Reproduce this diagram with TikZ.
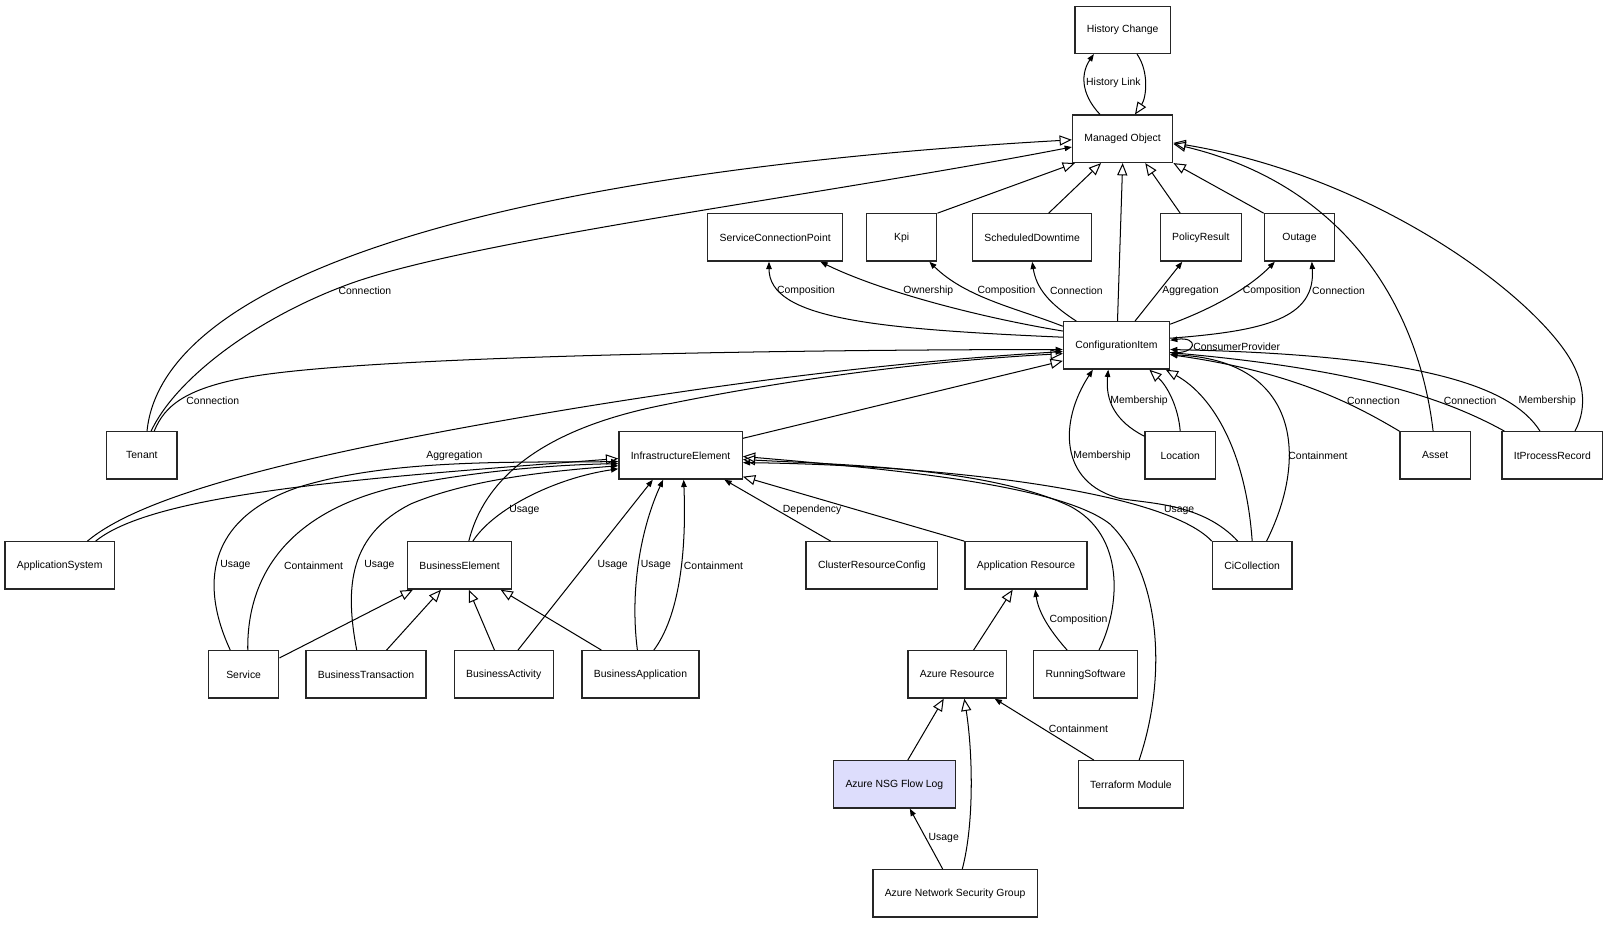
\documentclass[tikz,border=0pt]{standalone}
\usepackage{fontspec}
\setmainfont{Liberation Sans}
\usetikzlibrary{arrows.meta,calc}
\definecolor{flowlog}{RGB}{221,221,252}

\begin{document}
\begin{tikzpicture}[x=0.025cm,y=-0.025cm,
    cls/.style={draw=black!85,line width=0.9pt,fill=white,minimum width=1.71cm,minimum height=1.15cm,inner xsep=0.29cm,font=\fontsize{7.2}{8.6}\selectfont},
    lbl/.style={inner sep=0pt,font=\fontsize{7.2}{8.6}\selectfont},
    assoc/.style={line width=0.7pt,-{Triangle[length=5pt,width=3.8pt]}},
    inherit/.style={line width=0.7pt,-{Triangle[open,length=8.5pt,width=7pt]}}]

            \useasboundingbox (0,0) rectangle (1568,899);

            \node[cls] (hc) at (1092,29) {History Change};
            \node[cls] (mo) at (1092,135) {Managed Object};
            \node[cls] (scp) at (754,231) {ServiceConnectionPoint};
            \node[cls] (kpi) at (877,231) {Kpi};
            \node[cls] (sd) at (1004,231) {ScheduledDowntime};
            \node[cls] (pr) at (1168,231) {PolicyResult};
            \node[cls] (outage) at (1264,231) {Outage};
            \node[cls] (ci) at (1086,336) {ConfigurationItem};
            \node[cls] (tenant) at (138,443) {Tenant};
            \node[cls] (ie) at (662,443) {InfrastructureElement};
            \node[cls] (loc) at (1148,443) {Location};
            \node[cls] (asset) at (1396,443) {Asset};
            \node[cls] (itpr) at (1510,443) {ItProcessRecord};
            \node[cls] (appsys) at (58,550) {ApplicationSystem};
            \node[cls] (be) at (447,550) {BusinessElement};
            \node[cls] (crc) at (848,550) {ClusterResourceConfig};
            \node[cls] (ar) at (998,550) {Application Resource};
            \node[cls] (cic) at (1218,550) {CiCollection};
            \node[cls] (svc) at (237,656) {Service};
            \node[cls] (btx) at (356,656) {BusinessTransaction};
            \node[cls] (bact) at (490,656) {BusinessActivity};
            \node[cls] (bapp) at (623,656) {BusinessApplication};
            \node[cls] (azr) at (931,656) {Azure Resource};
            \node[cls] (rs) at (1056,656) {RunningSoftware};
            \node[cls,fill=flowlog] (nsgfl) at (870,763) {Azure NSG Flow Log};
            \node[cls] (tfm) at (1100,763) {Terraform Module};
            \node[cls] (ansg) at (929,869) {Azure Network Security Group};

            % managed object
            \draw[assoc] ($(mo.north)+(-22,0)$) .. controls (1050,90) and (1052,70) .. ($(hc.south)+(-28,0)$) node[lbl,at={(1083,81)}] {History Link};
            \draw[inherit] ($(hc.south)+(14,0)$) .. controls (1118,70) and (1115,95) .. ($(mo.north)+(12,0)$);
            \draw[inherit] ($(tenant.north)+(5,0)$) .. controls (158,270) and (480,168) .. ($(mo.west)+(0,1)$);
            \draw[assoc] ($(tenant.north)+(9,0)$) .. controls (170,370) and (245,312) .. (335,278) .. controls (450,234) and (800,190) .. ($(mo.west)+(0,8)$) node[lbl,at={(355,283)}] {Connection};
            \draw[inherit] (kpi.north east) -- ($(mo.south west)+(3,0)$);
            \draw[inherit] ($(sd.north)+(16,0)$) -- ($(mo.south)+(-21,0)$);
            \draw[inherit] ($(ci.north)+(1,0)$) -- (mo.south);
            \draw[inherit] ($(pr.north)+(-20,0)$) -- ($(mo.south)+(22,0)$);
            \draw[inherit] (outage.north west) -- (mo.south east);
            \draw[inherit] ($(asset.north)+(-2,0)$) .. controls (1380,300) and (1310,180) .. ($(mo.east)+(0,5)$);
            \draw[inherit] ($(itpr.north)+(22,0)$) .. controls (1545,395) and (1540,368) .. (1524,344) .. controls (1480,278) and (1330,170) .. ($(mo.east)+(0,4)$);

            % configuration item, upper row
            \draw[assoc] ($(ci.west)+(0,-8)$) .. controls (850,320) and (748,310) .. ($(scp.south)+(-6,0)$) node[lbl,at={(784,283)}] {Composition};
            \draw[assoc] ($(ci.west)+(0,-14)$) .. controls (960,310) and (860,285) .. ($(scp.south)+(44,0)$) node[lbl,at={(903,283)}] {Ownership};
            \draw[assoc] ($(ci.north west)+(0,5)$) .. controls (990,300) and (940,290) .. ($(kpi.south)+(27,0)$) node[lbl,at={(979,283)}] {Composition};
            \draw[assoc] ($(ci.north)+(-39,0)$) .. controls (1020,295) and (1008,280) .. (sd.south) node[lbl,at={(1047,283)}] {Connection};
            \draw[assoc] ($(ci.north)+(18,0)$) -- ($(pr.south)+(-18,0)$) node[lbl,at={(1158,283)}] {Aggregation};
            \draw[assoc] ($(ci.north east)+(0,3)$) .. controls (1180,300) and (1215,280) .. ($(outage.south)+(-24,0)$) node[lbl,at={(1237,283)}] {Composition};
            \draw[assoc] ($(ci.east)+(0,-7)$) .. controls (1230,322) and (1280,310) .. ($(outage.south)+(12,0)$) node[lbl,at={(1302,283)}] {Connection};
            \draw[assoc] ($(ci.east)+(0,7)$) .. controls (1166,345) and (1166,327) .. ($(ci.east)+(0,-5)$) node[lbl,at={(1203,337)}] {ConsumerProvider};

            % configuration item, left
            \draw[assoc] ($(tenant.north)+(12,0)$) .. controls (160,395) and (180,375) .. (260,364) .. controls (400,345) and (800,340) .. ($(ci.west)+(0,4)$) node[lbl,at={(207,390)}] {Connection};
            \draw[assoc] ($(appsys.north)+(27,0)$) .. controls (140,480) and (300,440) .. (560,397) .. controls (750,366) and (900,350) .. ($(ci.west)+(0,6)$) node[lbl,at={(442,443)}] {Aggregation};
            \draw[inherit] ($(be.north)+(9,0)$) .. controls (470,470) and (520,420) .. (640,395) .. controls (780,366) and (920,350) .. ($(ci.west)+(0,8)$);
            \draw[inherit] ($(ie.north east)+(0,7)$) -- ($(ci.west)+(0,15)$);

            % configuration item, right and below
            \draw[assoc] (asset.north west) .. controls (1320,395) and (1260,362) .. ($(ci.east)+(0,9)$) node[lbl,at={(1336,390)}] {Connection};
            \draw[assoc] ($(itpr.north west)+(3,0)$) .. controls (1410,390) and (1330,360) .. ($(ci.east)+(0,7)$) node[lbl,at={(1430,390)}] {Connection};
            \draw[assoc] ($(itpr.north)+(-12,0)$) .. controls (1470,375) and (1380,345) .. ($(ci.east)+(0,4)$) node[lbl,at={(1505,390)}] {Membership};
            \draw[assoc] ($(cic.north)+(14,0)$) .. controls (1275,440) and (1260,350) .. ($(ci.east)+(0,9)$) node[lbl,at={(1282,443)}] {Containment};
            \draw[assoc] ($(loc.north west)+(0,5)$) .. controls (1085,410) and (1075,390) .. ($(ci.south)+(-8,0)$) node[lbl,at={(1108,390)}] {Membership};
            \draw[inherit] (loc.north) .. controls (1146,395) and (1135,375) .. ($(ci.south)+(32,0)$);
            \draw[inherit] (cic.north) .. controls (1212,440) and (1180,385) .. ($(ci.south)+(48,0)$);
            \draw[assoc] ($(cic.north)+(-14,0)$) .. controls (1170,490) and (1120,490) .. (1090,485) .. controls (1030,470) and (1030,410) .. ($(ci.south)+(-23,0)$) node[lbl,at={(1072,443)}] {Membership};

            % infrastructure element
            \draw[inherit] ($(appsys.north)+(35,0)$) .. controls (150,480) and (350,465) .. ($(ie.west)+(0,3)$);
            \draw[assoc] ($(svc.north)+(-13,0)$) .. controls (195,570) and (200,505) .. (290,474) .. controls (380,446) and (500,450) .. ($(ie.west)+(0,6)$) node[lbl,at={(229,550)}] {Usage};
            \draw[assoc] ($(svc.north)+(4,0)$) .. controls (240,560) and (280,500) .. (380,475) .. controls (460,458) and (540,452) .. ($(ie.west)+(0,8)$) node[lbl,at={(305,550)}] {Containment};
            \draw[assoc] ($(btx.north)+(-9,0)$) .. controls (335,570) and (340,520) .. (400,490) .. controls (460,465) and (540,458) .. ($(ie.west)+(0,10)$) node[lbl,at={(369,550)}] {Usage};
            \draw[assoc] ($(be.north)+(13,0)$) .. controls (480,495) and (540,465) .. ($(ie.west)+(0,13)$) node[lbl,at={(510,496)}] {Usage};
            \draw[assoc] ($(bact.north east)+(-35,0)$) -- ($(ie.south)+(-27,0)$) node[lbl,at={(596,550)}] {Usage};
            \draw[assoc] ($(bapp.north)+(-3,0)$) .. controls (612,570) and (625,510) .. ($(ie.south)+(-17,0)$) node[lbl,at={(638,550)}] {Usage};
            \draw[assoc] ($(bapp.north)+(13,0)$) .. controls (660,600) and (668,540) .. ($(ie.south)+(3,0)$) node[lbl,at={(694,550)}] {Containment};
            \draw[assoc] ($(crc.north)+(-40,0)$) -- ($(ie.south east)+(-18,0)$) node[lbl,at={(790,496)}] {Dependency};
            \draw[inherit] (ar.north west) -- ($(ie.south east)+(0,-3)$);
            \draw[assoc] (cic.north west) .. controls (1130,475) and (900,452) .. ($(ie.east)+(0,7)$) node[lbl,at={(1147,496)}] {Usage};
            \draw[inherit] ($(rs.north)+(13,0)$) .. controls (1090,590) and (1095,520) .. (1040,492) .. controls (960,455) and (820,452) .. ($(ie.east)+(0,4)$);
            \draw[inherit] ($(tfm.north)+(8,0)$) .. controls (1135,660) and (1130,560) .. (1080,510) .. controls (1030,470) and (850,455) .. ($(ie.east)+(0,1)$);

            % business element
            \draw[inherit] ($(svc.east)+(0,-16)$) -- ($(be.south west)+(6,0)$);
            \draw[inherit] ($(btx.north)+(20,0)$) -- ($(be.south)+(-18,0)$);
            \draw[inherit] ($(bact.north)+(-9,0)$) -- ($(be.south)+(9,0)$);
            \draw[inherit] ($(bapp.north)+(-38,0)$) -- ($(be.south)+(40,0)$);

            % azure
            \draw[inherit] ($(azr.north)+(16,0)$) -- ($(ar.south)+(-13,0)$);
            \draw[assoc] ($(rs.north)+(-18,0)$) .. controls (1020,612) and (1010,595) .. ($(ar.south)+(9,0)$) node[lbl,at={(1049,603)}] {Composition};
            \draw[inherit] ($(nsgfl.north)+(13,0)$) -- ($(azr.south)+(-13,0)$);
            \draw[inherit] ($(ansg.north)+(7,0)$) .. controls (948,800) and (946,730) .. ($(azr.south)+(7,0)$);
            \draw[assoc] ($(tfm.north)+(-36,0)$) -- ($(azr.south east)+(-12,0)$) node[lbl,at={(1049,709)}] {Containment};
            \draw[assoc] ($(ansg.north)+(-12,0)$) -- ($(nsgfl.south)+(15,0)$) node[lbl,at={(918,815)}] {Usage};

\end{tikzpicture}
\end{document}
